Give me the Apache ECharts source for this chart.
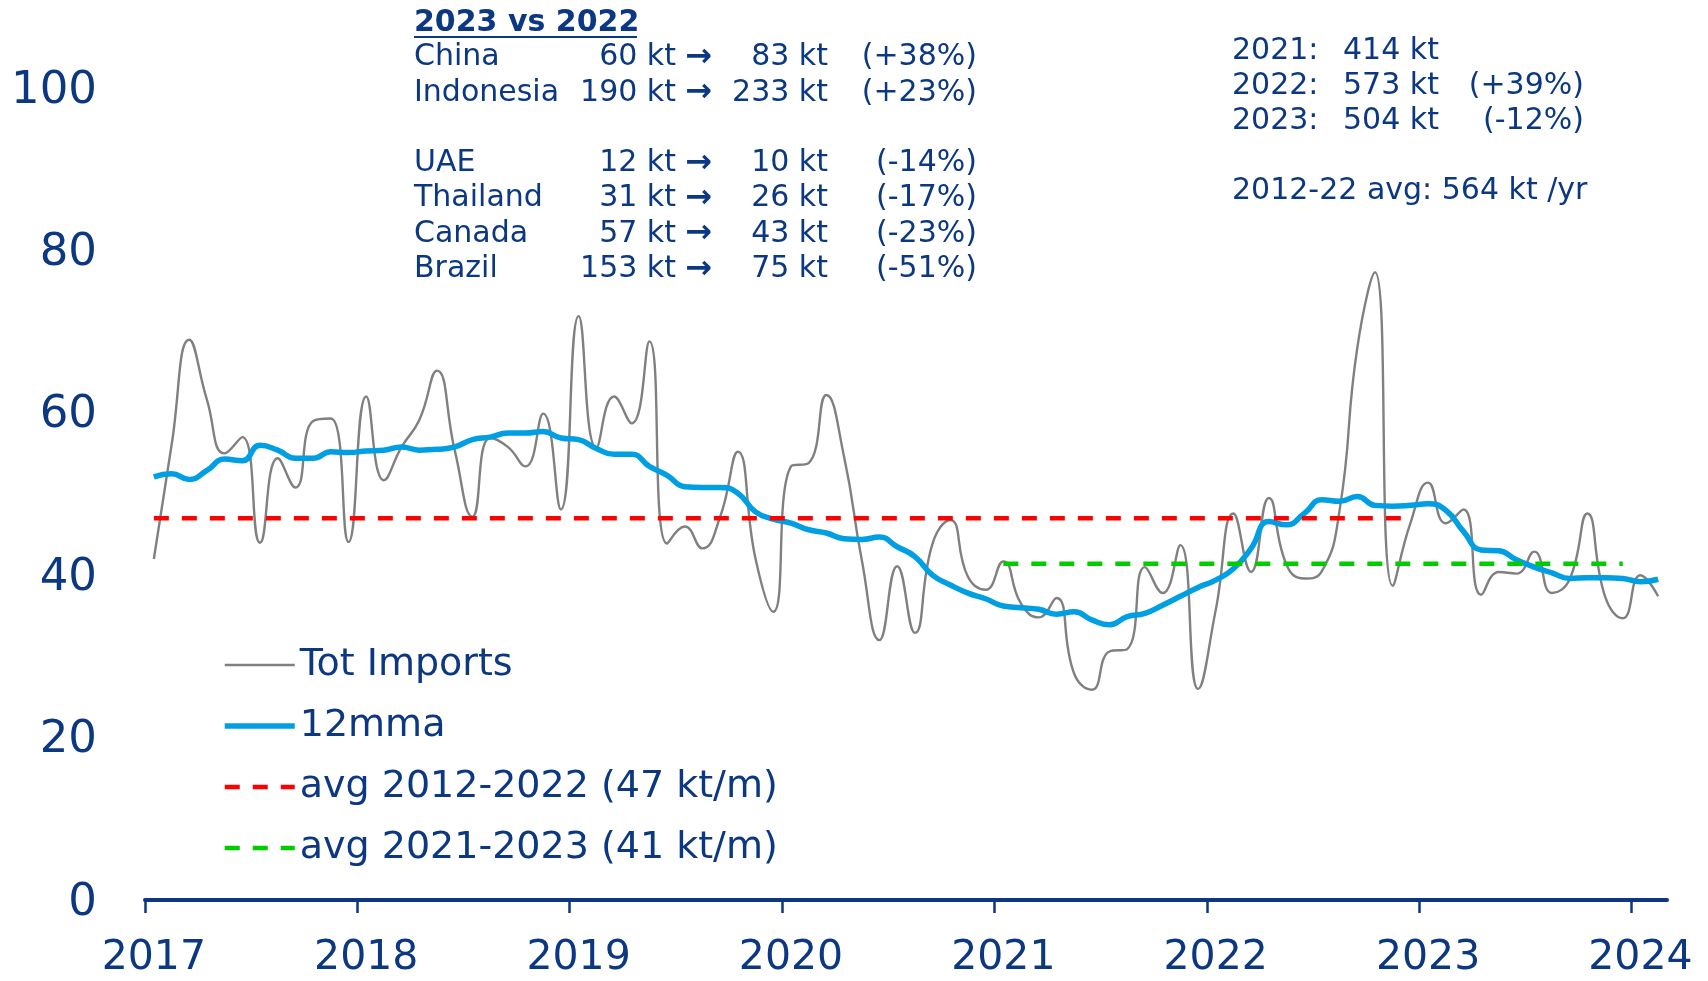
<!DOCTYPE html>
<html>
<head>
<meta charset="utf-8">
<script src="https://cdn.jsdelivr.net/npm/echarts@6/dist/echarts.min.js"></script>
<style>
  html, body { margin: 0; padding: 0; background: #ffffff; }
  #chart { width: 1708px; height: 981px; }
</style>
</head>
<body>
<div id="chart"></div>
<script>
// Monthly total imports (kt), Jan 2017 - Feb 2024
const totImports = [
  42.0, 56.0, 69.0, 61.6, 55.0, 57.0, 44.0, 54.4, 50.8, 59.0, 59.3, 44.1,
  62.0, 51.7, 55.8, 59.1, 65.2, 55.4, 47.2, 56.9, 55.8, 53.4, 59.9, 48.1,
  71.9, 55.7, 62.0, 58.7, 68.8, 43.9, 46.0, 43.3, 47.2, 55.2, 42.0, 35.5,
  53.4, 53.8, 62.2, 54.6, 41.9, 32.0, 41.1, 32.9, 43.9, 46.8, 39.8, 38.2,
  41.7, 36.5, 34.8, 37.2, 27.9, 25.9, 30.6, 30.9, 41.0, 37.8, 43.7, 26.0,
  35.7, 47.6, 40.4, 49.5, 41.3, 39.6, 40.5, 48.0, 68.0, 77.3, 38.7, 46.4,
  51.4, 46.4, 48.1, 37.6, 40.4, 40.2, 42.9, 37.8, 39.5, 47.6, 37.4, 34.7,
  40.0, 37.4
];

// 12-month moving average (kt)
const twelveMma = [
  52.1, 52.5, 51.8, 52.9, 54.3, 54.1, 56.0, 55.4, 54.4, 54.4, 55.2, 55.1,
  55.3, 55.4, 55.8, 55.4, 55.5, 55.8, 56.7, 57.0, 57.5, 57.5, 57.7, 56.9,
  56.7, 55.6, 54.9, 54.9, 53.4, 52.3, 50.9, 50.8, 50.8, 50.1, 47.8, 46.9,
  46.4, 45.6, 45.2, 44.5, 44.4, 44.7, 43.5, 42.3, 40.0, 38.8, 37.8, 37.1,
  36.2, 36.0, 35.8, 35.2, 35.5, 34.5, 33.9, 34.9, 35.3, 36.3, 37.4, 38.5,
  39.4, 40.8, 43.3, 46.6, 46.2, 47.6, 49.3, 49.1, 49.7, 48.6, 48.5, 48.6,
  48.8, 48.0, 45.4, 43.1, 43.0, 41.9, 41.0, 40.3, 39.6, 39.7, 39.7, 39.6,
  39.2, 39.5
];

// Month categories
const months = [];
for (let y = 2017; y <= 2024; y++) {
  for (let m = 1; m <= 12; m++) {
    if (months.length < totImports.length) months.push(y + '-' + String(m).padStart(2, '0'));
  }
}

// Year tick labels
const yearLabels = ['2017', '2018', '2019', '2020', '2021', '2022', '2023', '2024'];

// Long-run averages (kt per month) and the months they cover
const avgLong  = { name: 'avg 2012-2022 (47 kt/m)', value: 47.0, from: '2017-01', to: '2022-12' };
const avgShort = { name: 'avg 2021-2023 (41 kt/m)', value: 41.4, from: '2021-01', to: '2023-12' };

// Country comparison, 2023 vs 2022 (kt)
const countries = ['China', 'Indonesia', 'UAE', 'Thailand', 'Canada', 'Brazil'];
const kt2022 = [60, 190, 12, 31, 57, 153];
const kt2023 = [83, 233, 10, 26, 43, 75];
const changePct = [38, 23, -14, -17, -23, -51];

// Annual totals (kt)
const totalYears = [2021, 2022, 2023];
const annualTotals = [414, 573, 504];
const annualChange = [null, 39, -12];
const longAvgPerYear = 564;

const NAVY = '#0B3880';
const FONT = '"DejaVu Sans", Verdana, sans-serif';

// x positions: each month sits in the middle of its slot
const pos = (i) => i + 0.5;
const monthPos = (key) => pos(months.indexOf(key));

const yearTickPos = yearLabels.map((_, k) => k * 12);
const yearLabelPos = yearLabels.map((_, k) => pos(k * 12));

function text(x, y, str, align, extra) {
  return {
    type: 'text', x: x, y: y, silent: true,
    style: Object.assign({
      text: str, fill: NAVY, fontSize: 30, fontFamily: FONT,
      align: align, textAlign: align,
      verticalAlign: 'middle', textVerticalAlign: 'middle'
    }, extra || {})
  };
}

const sign = (v) => (v > 0 ? '+' : '') + v + '%';

const graphics = [];
// comparison table
graphics.push(text(414, 23, '2023 vs 2022', 'left', { fontWeight: 'bold' }));
graphics.push({ type: 'line', silent: true, shape: { x1: 414, y1: 37, x2: 637, y2: 37 }, style: { stroke: NAVY, lineWidth: 2.2 } });
const slots = [0, 1, 3, 4, 5, 6];
countries.forEach((c, i) => {
  const y = 57.5 + slots[i] * 35.3;
  graphics.push(text(414, y, c, 'left'));
  graphics.push(text(676, y, kt2022[i] + ' kt', 'right'));
  graphics.push(text(712, y, '\u2192', 'right', { fontWeight: 'bold', fontSize: 32 }));
  graphics.push(text(828, y, kt2023[i] + ' kt', 'right'));
  graphics.push(text(977, y, '(' + sign(changePct[i]) + ')', 'right'));
});
// annual totals
totalYears.forEach((yr, i) => {
  const y = 51 + i * 35;
  graphics.push(text(1232, y, yr + ':', 'left'));
  graphics.push(text(1343, y, annualTotals[i] + ' kt', 'left'));
  if (annualChange[i] !== null) graphics.push(text(1584, y, '(' + sign(annualChange[i]) + ')', 'right'));
});
graphics.push(text(1232, 191, '2012-22 avg: ' + longAvgPerYear + ' kt /yr', 'left'));

const chart = echarts.init(document.getElementById('chart'), null, { renderer: 'canvas' });

const hiddenMarker = { opacity: 0, borderWidth: 0 };

chart.setOption({
  animation: false,
  backgroundColor: '#ffffff',
  grid: { left: 145, right: 41, top: 88, bottom: 81, containLabel: false },
  xAxis: {
    type: 'value',
    min: 0,
    max: months.length,
    splitLine: { show: false },
    axisLine: { show: true, onZero: false, lineStyle: { color: NAVY, width: 4 } },
    axisTick: { show: true, customValues: yearTickPos, length: 13, lineStyle: { color: NAVY, width: 2.5 } },
    axisLabel: {
      customValues: yearLabelPos,
      formatter: (v) => yearLabels[Math.round((v - 0.5) / 12)],
      fontSize: 41, fontFamily: FONT, color: NAVY, margin: 38
    }
  },
  yAxis: {
    type: 'value',
    min: 0, max: 100, interval: 20,
    splitLine: { show: false },
    axisLine: { show: false },
    axisTick: { show: false },
    axisLabel: {
      margin: 48,
      formatter: (v) => '{t|' + v + '}',
      rich: { t: { fontSize: 45, fontFamily: FONT, color: NAVY, padding: [6, 0, 0, 0] } }
    }
  },
  legend: {
    orient: 'vertical',
    left: 222, top: 645, padding: 0,
    itemWidth: 70, itemHeight: 14, itemGap: 21,
    itemStyle: hiddenMarker,
    textStyle: { fontSize: 38, lineHeight: 40, fontFamily: FONT, color: NAVY },
    data: [
      { name: 'Tot Imports', itemStyle: hiddenMarker, lineStyle: { width: 2.4 } },
      { name: '12mma', itemStyle: hiddenMarker, lineStyle: { width: 5.5 } },
      { name: avgLong.name, itemStyle: hiddenMarker, lineStyle: { width: 4.5, type: [15, 13] } },
      { name: avgShort.name, itemStyle: hiddenMarker, lineStyle: { width: 4.5, type: [15, 13] } }
    ]
  },
  series: [
    {
      name: 'Tot Imports', type: 'line', smooth: 0.5, symbol: 'none',
      data: totImports.map((v, i) => [pos(i), v]),
      lineStyle: { color: '#808080', width: 2.4 }, itemStyle: { color: '#808080' }, z: 2
    },
    {
      name: '12mma', type: 'line', smooth: 0.5, symbol: 'none',
      data: twelveMma.map((v, i) => [pos(i), v]),
      lineStyle: { color: '#009FE3', width: 5.5 }, itemStyle: { color: '#009FE3' }, z: 3
    },
    {
      name: avgLong.name, type: 'line', symbol: 'none',
      data: [[monthPos(avgLong.from), avgLong.value], [monthPos(avgLong.to), avgLong.value]],
      lineStyle: { color: '#FF0000', width: 4.5, type: [15, 13] }, itemStyle: { color: '#FF0000' }, z: 4
    },
    {
      name: avgShort.name, type: 'line', symbol: 'none',
      data: [[monthPos(avgShort.from), avgShort.value], [monthPos(avgShort.to), avgShort.value]],
      lineStyle: { color: '#00CC00', width: 4.5, type: [15, 13] }, itemStyle: { color: '#00CC00' }, z: 4
    }
  ],
  graphic: { elements: graphics }
});
</script>
</body>
</html>
